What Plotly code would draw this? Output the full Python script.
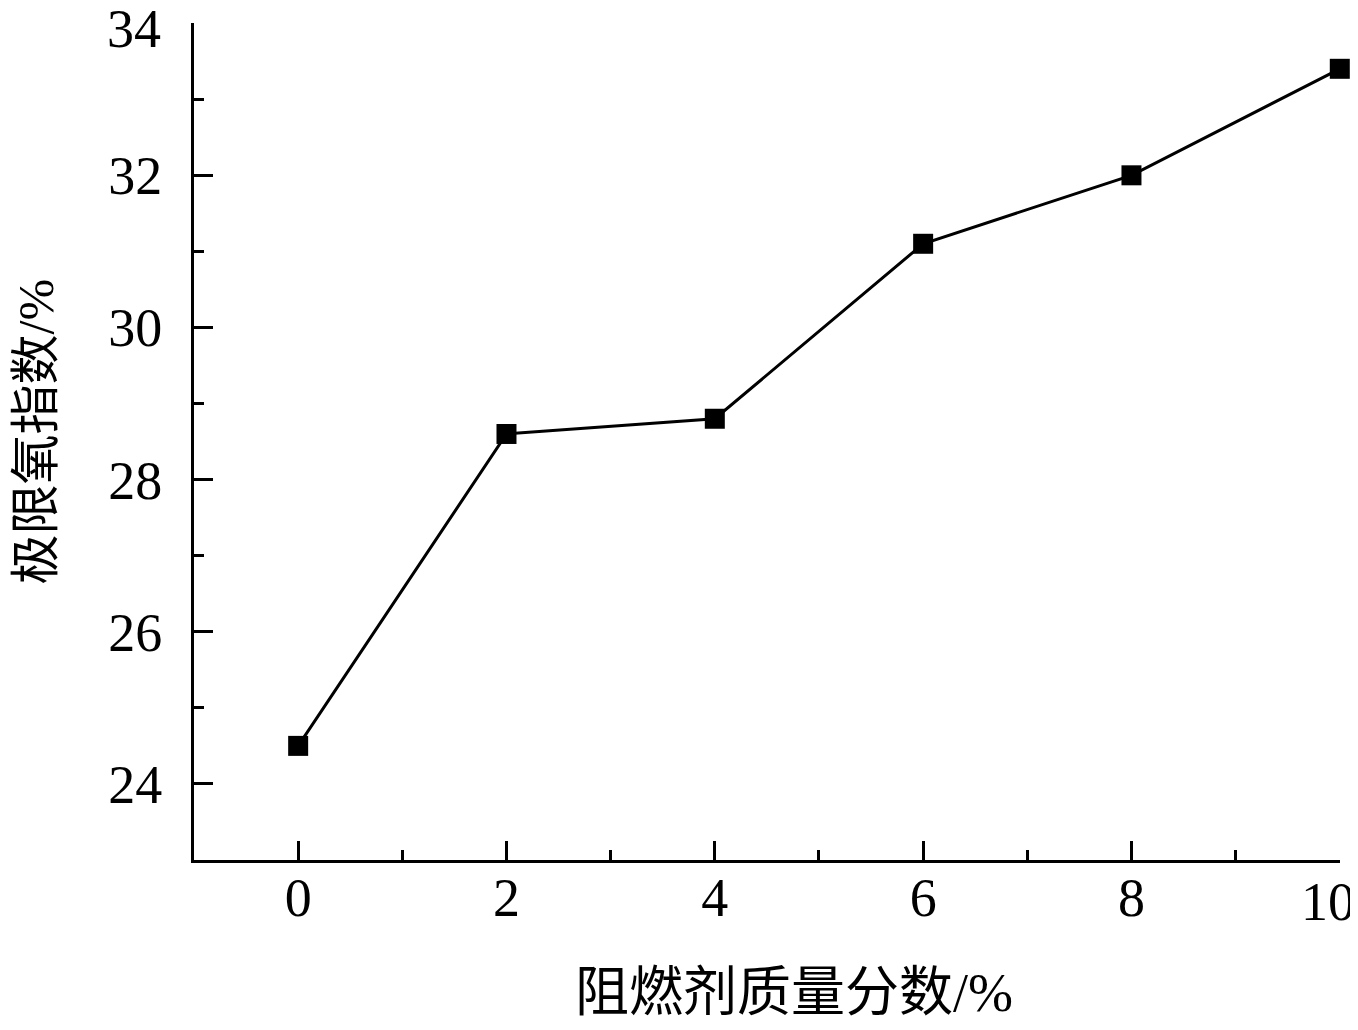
import plotly.graph_objects as go

# 阻燃剂质量分数 vs 极限氧指数
fr_content = [0, 2, 4, 6, 8, 10]
loi = [24.5, 28.6, 28.8, 31.1, 32.0, 33.4]

x_ticks = [0, 2, 4, 6, 8, 10]
y_ticks = [24, 26, 28, 30, 32, 34]

x_title = "阻燃剂质量分数/%"
y_title = "极限氧指数/%"

FONT = "Liberation Serif, Times New Roman, Noto Sans CJK SC, serif"
TICK_FONT = dict(family=FONT, size=54, color="black")

fig = go.Figure()
fig.add_trace(
    go.Scatter(
        x=fr_content,
        y=loi,
        mode="lines+markers",
        line=dict(color="black", width=3),
        marker=dict(symbol="square", size=20, color="black"),
        showlegend=False,
        cliponaxis=False,
    )
)

axis_common = dict(
    showline=True,
    linecolor="black",
    linewidth=3,
    mirror=False,
    showgrid=False,
    zeroline=False,
    automargin=False,
    ticks="inside",
    ticklen=19,
    tickwidth=3,
    tickcolor="black",
    tickmode="array",
    ticklabeloverflow="allow",
    tickfont=TICK_FONT,
    minor=dict(ticks="inside", ticklen=10, tickwidth=3, tickcolor="black", dtick=1),
)

# end labels (10, 34) sit at the page edge, so they are drawn as annotations
x_text = [str(v) for v in x_ticks]
x_text[-1] = ""
y_text = [str(v) for v in y_ticks]
y_text[-1] = ""

fig.update_xaxes(range=[-1, 10.002], tickvals=x_ticks, ticktext=x_text,
                 ticklabelstandoff=-12, **axis_common)
fig.update_yaxes(range=[23, 34.002], tickvals=y_ticks, ticktext=y_text,
                 ticklabelstandoff=18, **axis_common)

fig.add_annotation(
    text=str(x_ticks[-1]), xref="x", yref="paper", x=x_ticks[-1], y=0,
    xanchor="center", yanchor="top", xshift=-12, yshift=-10, showarrow=False,
    font=TICK_FONT,
)
fig.add_annotation(
    text=str(y_ticks[-1]), xref="paper", yref="y", x=-0.027, y=y_ticks[-1],
    xanchor="right", yanchor="middle", yshift=-6, showarrow=False,
    font=TICK_FONT,
)

fig.add_annotation(
    text=x_title, xref="paper", yref="paper", x=0.5236, y=-0.159,
    xanchor="center", yanchor="middle", showarrow=False,
    font=dict(family=FONT, size=54, color="black"),
)
fig.add_annotation(
    text=y_title, xref="paper", yref="paper", x=-0.1379, y=0.512,
    xanchor="center", yanchor="middle", showarrow=False, textangle=-90,
    font=dict(family=FONT, size=50, color="black"),
)

# page body has an 8px margin, so the figure is a bit smaller than the window
fig.update_layout(
    width=1350,
    height=1022,
    margin=dict(l=186, r=18, t=15, b=170),
    plot_bgcolor="white",
    paper_bgcolor="white",
)

fig.write_html("out.html")
